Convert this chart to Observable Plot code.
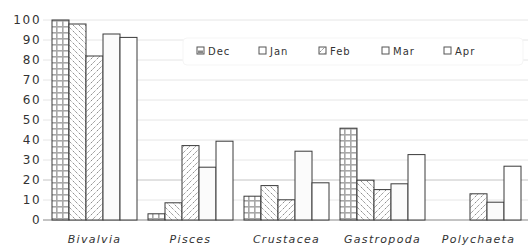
<!DOCTYPE html>
<html><head><meta charset="utf-8">
<script src="https://cdn.jsdelivr.net/npm/d3@7"></script>
<script src="https://cdn.jsdelivr.net/npm/@observablehq/plot@0.6"></script>
<style>body{margin:0;background:#fff}</style>
</head><body><div id="chart"></div>
<script>
const categories = ["Bivalvia", "Pisces", "Crustacea", "Gastropoda", "Polychaeta"];
const months = ["Dec", "Jan", "Feb", "Mar", "Apr"];
const dec = [100, 3.1, 11.9, 45.9, 0];
const jan = [98, 8.6, 17.2, 19.9, 0];
const feb = [82, 37.2, 10.1, 15.2, 13.1];
const mar = [93, 26.4, 34.4, 18.1, 8.9];
const apr = [91.3, 39.4, 18.6, 32.7, 26.9];
const yTicks = [0, 10, 20, 30, 40, 50, 60, 70, 80, 90, 100];

const series = {Dec: dec, Jan: jan, Feb: feb, Mar: mar, Apr: apr};
const fills = {Dec: "url(#pDec)", Jan: "url(#pJan)", Feb: "url(#pFeb)", Mar: "#fbfbfb", Apr: "#ffffff"};
const rows = [];
categories.forEach((c, i) => months.forEach(m => {
  if (series[m][i] > 0) rows.push({category: c, month: m, value: series[m][i]});
}));

const plot = Plot.plot({
  width: 528, height: 247,
  marginLeft: 45, marginRight: 1, marginTop: 20, marginBottom: 27,
  style: {background: "#fff", color: "#333"},
  fx: {domain: categories, paddingInner: 0.1, paddingOuter: 0.05, label: null, tickSize: 0, tickPadding: 15},
  x: {domain: months, padding: 0, axis: null},
  y: {domain: [0, 100], ticks: yTicks, tickSize: 0, tickPadding: 10, label: null, tickFormat: d => d},
  color: {type: "identity"},
  facet: {data: rows, x: "category"},
  marks: [
    Plot.barY(rows, {x: "month", y: "value", fill: d => fills[d.month], stroke: "#3a3a3a", strokeWidth: 1})
  ]
});
document.getElementById("chart").appendChild(plot);

const svg = d3.select(plot);
const ys = plot.scale("y");
// patterns
const defs = svg.insert("defs", ":first-child");
const pd = defs.append("pattern").attr("id", "pDec").attr("patternUnits", "userSpaceOnUse").attr("width", 6).attr("height", 6);
pd.append("rect").attr("width", 6).attr("height", 6).attr("fill", "#fff");
pd.append("rect").attr("x", 2).attr("width", 1.6).attr("height", 6).attr("fill", "#a8a8a8");
pd.append("rect").attr("y", 2).attr("width", 6).attr("height", 1.6).attr("fill", "#a8a8a8");
const pj = defs.append("pattern").attr("id", "pJan").attr("patternUnits", "userSpaceOnUse").attr("width", 6).attr("height", 6);
pj.append("rect").attr("width", 6).attr("height", 6).attr("fill", "#fff");
pj.append("path").attr("d", "M-1,-1L7,7M-1,5L1,7M5,-1L7,1").attr("stroke", "#777").attr("stroke-width", 1).attr("stroke-dasharray", "1.5,1");
const pf = defs.append("pattern").attr("id", "pFeb").attr("patternUnits", "userSpaceOnUse").attr("width", 6).attr("height", 6);
pf.append("rect").attr("width", 6).attr("height", 6).attr("fill", "#fff");
pf.append("path").attr("d", "M-1,7L7,-1M-1,1L1,-1M5,7L7,5").attr("stroke", "#777").attr("stroke-width", 1).attr("stroke-dasharray", "1.5,1");

// gridlines behind bars
const grid = svg.insert("g", "defs + *");
const W = 528;
yTicks.forEach(t => {
  grid.append("line").attr("x1", 43).attr("x2", W).attr("y1", ys.apply(t)).attr("y2", ys.apply(t))
    .attr("stroke", t === 0 ? "#888" : t === 20 ? "#c4c4c4" : "#e6e6e6").attr("stroke-width", 1);
});

// fonts
svg.selectAll('g[aria-label="y-axis tick label"] text, g[aria-label="y-axis tick label"]')
  .style("font-family", "DejaVu Sans").style("font-size", "12px").style("letter-spacing", "1.8px");
svg.selectAll('g[aria-label="fx-axis tick label"] text, g[aria-label="fx-axis tick label"]')
  .style("font-family", "DejaVu Sans").style("font-size", "11px").style("font-style", "italic").style("letter-spacing", "1.3px");

// legend
const lg = svg.append("g").attr("text-anchor", "start");
lg.append("rect").attr("x", 183).attr("y", 38).attr("width", 340).attr("height", 27).attr("rx", 4)
  .attr("fill", "#fff").attr("stroke", "#f5f5f5");
const lx = [197, 259, 319, 382, 444];
months.forEach((m, i) => {
  const g = lg.append("g").attr("transform", `translate(${lx[i]},47)`);
  g.append("rect").attr("width", 7).attr("height", 7).attr("fill", i === 2 ? "url(#pFeb)" : "#fff").attr("stroke", "#555");
  if (i === 0) g.append("rect").attr("x", 1).attr("y", 3.5).attr("width", 5).attr("height", 3).attr("fill", "#888");
  g.append("text").attr("x", 11).attr("y", 7.5).attr("text-anchor", "start").text(m)
    .style("font-family", "DejaVu Sans").style("font-size", "10px").style("letter-spacing", "1px").attr("fill", "#333");
});
</script></body></html>
